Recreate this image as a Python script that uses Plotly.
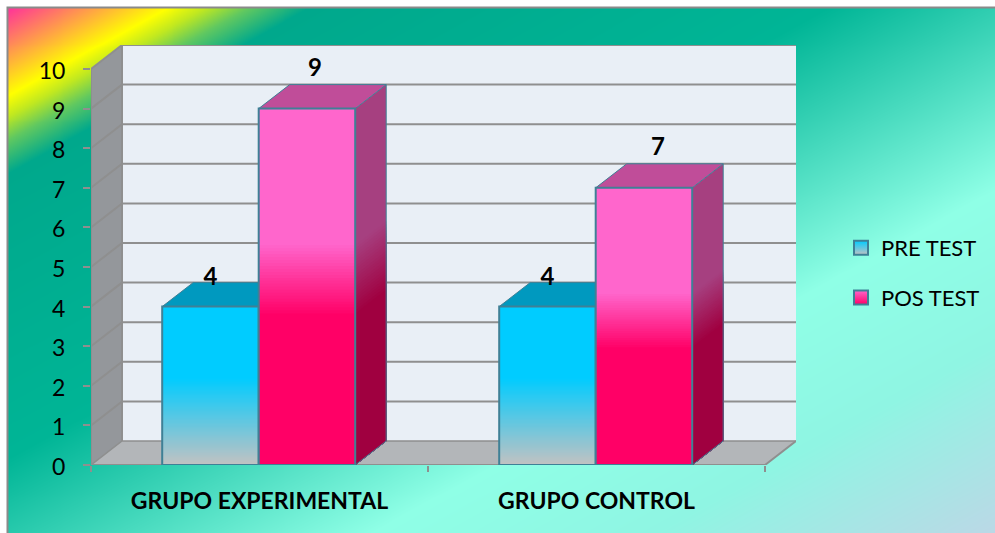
import numpy as np
import plotly.graph_objects as go

# ---------- data ----------
categories = ["GRUPO EXPERIMENTAL", "GRUPO CONTROL"]
pre_test = [4, 4]
pos_test = [9, 7]
y_ticks = [0, 1, 2, 3, 4, 5, 6, 7, 8, 9, 10]

# ---------- layout constants ----------
W, H = 995, 533
L, B = 91, 465            # front origin in pixels
CAT_PX, UNIT_PX = 337.0, 39.6
DX_PX, DY_PX = 31.0, 24.0
DX, DY = DX_PX / CAT_PX, DY_PX / UNIT_PX
BAR = 96.5 / CAT_PX
GAP = (1 - 2 * BAR) / 2 - 0.8 / CAT_PX
GRID = "#8f8f8f"
EDGE = "#3f8096"
FONT = "Lato"


def hex2rgb(h):
    h = h.lstrip("#")
    return np.array([int(h[i:i + 2], 16) for i in (0, 2, 4)], float)


def ramp(stops, f):
    fs = [s[0] for s in stops]
    cols = np.array([hex2rgb(s[1]) for s in stops])
    c = [np.interp(f, fs, cols[:, i]) for i in range(3)]
    return "rgb(%d,%d,%d)" % tuple(round(v) for v in c)


fig = go.Figure()

# ---------- page background (diagonal gradient) ----------
BG = [(0, "#ff3399"), (87, "#ffff00"), (108, "#c0e820"), (132, "#60c860"), (165, "#00a88c"),
      (450, "#00b596"), (725, "#8fffe6"), (880, "#8ff5e3"), (1068, "#bbd8e6")]
TMAX = BG[-1][0]
px = np.linspace(8, W, 250)
py = np.linspace(8, H, 134)
gx, gy = np.meshgrid(px, py)
fig.add_trace(go.Heatmap(
    x=px, y=py, z=(gx - 8) * 0.55 + (gy - 8),
    zmin=0, zmax=TMAX, zsmooth="best", showscale=False, hoverinfo="skip",
    colorscale=[[s[0] / TMAX, s[1]] for s in BG], xaxis="x", yaxis="y",
))


def poly(xs, ys, fill):
    fig.add_trace(go.Scatter(
        x=list(xs) + [xs[0]], y=list(ys) + [ys[0]], mode="lines",
        fill="toself", fillcolor=fill, line=dict(color="rgba(0,0,0,0)", width=0),
        hoverinfo="skip", showlegend=False, xaxis="x2", yaxis="y2", cliponaxis=False,
    ))


def path(xs, ys, color, width):
    fig.add_trace(go.Scatter(
        x=list(xs), y=list(ys), mode="lines", line=dict(color=color, width=width),
        hoverinfo="skip", showlegend=False, xaxis="x2", yaxis="y2", cliponaxis=False,
    ))


N = len(categories)
top = y_ticks[-1]
# walls and floor
poly([DX, N + DX, N + DX, DX], [DY, DY, top + DY, top + DY], "#e9eff6")
poly([0, DX, DX, 0], [0, DY, top + DY, top], "#94979b")
poly([0, N, N + DX, DX], [0, 0, DY, DY], "#b3b6b9")
for t in y_ticks[1:]:
    path([0, DX, N + DX], [t, t + DY, t + DY], GRID, 2)
path([0, DX, N + DX], [0, DY, DY], GRID, 1.5)
path([DX, DX], [DY, top + DY], GRID, 2)
path([0, 0], [0, top], GRID, 2)
path([0, N, N + DX], [0, 0, DY], GRID, 2)

PINK = [(0, "#ff0066"), (0.42, "#ff0066"), (0.62, "#ff66cc"), (1, "#ff66cc")]
PINK_SIDE = [(0, "#a00040"), (0.42, "#a00040"), (0.62, "#a64080"), (1, "#a64080")]
BLUE = [(0, "#c2c2c2"), (0.55, "#00ccff"), (1, "#00ccff")]
STRIPS = 120


def strips(stops):
    """Top-down list of (fraction, colour), dropping repeats of the same colour."""
    out = []
    for k in range(STRIPS, 0, -1):
        f = k / STRIPS
        col = ramp(stops, f - 0.5 / STRIPS)
        if not out or out[-1][1] != col:
            out.append((f, col))
    return out


def bar(x0, v, front, top_col, side=None):
    x1 = x0 + BAR
    if side:
        for f, col in strips(side):
            poly([x1, x1 + DX, x1 + DX, x1], [0, DY, f * v + DY, f * v], col)
    poly([x0, x0 + DX, x1 + DX, x1], [v, v + DY, v + DY, v], top_col)
    for f, col in strips(front):
        poly([x0, x1, x1, x0], [0, 0, f * v, f * v], col)
    path([x0, x1, x1, x0, x0], [0, 0, v, v, 0], EDGE, 2)
    path([x0, x0 + DX, x1 + DX, x1], [v, v + DY, v + DY, v], EDGE, 1)
    if side:
        path([x1 + DX, x1 + DX, x1], [v + DY, DY, 0], EDGE, 1)


lab_x, lab_y, lab_t = [], [], []
PRE_DX, POS_DX = [0.0, 0.0], [8 / CAT_PX, 14 / CAT_PX]
for i in range(N):
    x0 = i + GAP
    bar(x0, pre_test[i], BLUE, "#0099bf")
    bar(x0 + BAR, pos_test[i], PINK, "#c04d99", side=PINK_SIDE)
    lab_x += [x0 + BAR / 2 + PRE_DX[i], x0 + 1.5 * BAR + POS_DX[i]]
    lab_y += [pre_test[i] + 28 / UNIT_PX, pos_test[i] + 39 / UNIT_PX]
    lab_t += [str(pre_test[i]), str(pos_test[i])]

fig.add_trace(go.Scatter(
    x=lab_x, y=lab_y, text=lab_t, mode="text", cliponaxis=False,
    textfont=dict(family=FONT, size=24, color="black", weight="bold"),
    hoverinfo="skip", showlegend=False, xaxis="x2", yaxis="y2",
))

# legend entries
for name, c0, c1 in [("PRE TEST", "#00ccff", "#c2c2c2"), ("POS TEST", "#ff66cc", "#ff0066")]:
    fig.add_trace(go.Scatter(
        x=[None], y=[None], name=name, mode="markers", legendgroup=name,
        marker=dict(symbol="square", size=14, color=c0,
                    gradient=dict(type="vertical", color=c1),
                    line=dict(color=EDGE, width=2)),
        xaxis="x2", yaxis="y2",
    ))

fig.update_layout(
    width=W, height=H, autosize=False,
    margin=dict(l=0, r=0, t=0, b=0, autoexpand=False),
    paper_bgcolor="white", plot_bgcolor="rgba(0,0,0,0)",
    xaxis=dict(domain=[8 / W, 1], range=[8, W], visible=False, automargin=False),
    yaxis=dict(domain=[0, 1 - 8 / H], range=[H, 8], visible=False, automargin=False),
    xaxis2=dict(
        domain=[L / W, (L + N * CAT_PX + DX_PX) / W], range=[0, N + DX], anchor="y2",
        automargin=False,
        tickmode="array", tickvals=[i + 0.5 for i in range(N)], ticktext=categories,
        ticks="", showgrid=False, zeroline=False, showline=False, ticklabelstandoff=20,
        tickfont=dict(family=FONT, size=23, color="black", weight="bold"),
        minor=dict(tickmode="array", tickvals=list(range(N + 1)), ticks="outside",
                   ticklen=6, tickwidth=2, tickcolor=GRID, showgrid=False),
    ),
    yaxis2=dict(
        domain=[(H - B) / H, (H - B + (top * UNIT_PX + DY_PX)) / H], range=[0, top + DY],
        anchor="x2", automargin=False, tickmode="array", tickvals=y_ticks, ticks="outside", ticklen=7,
        tickwidth=2, tickcolor=GRID, showgrid=False, zeroline=False, showline=False,
        ticklabelstandoff=13, ticklabelshift=2, tickfont=dict(family=FONT, size=23, color="black"),
    ),
    legend=dict(x=841 / W, xanchor="left", y=1 - 227 / H, yanchor="top",
                bgcolor="rgba(0,0,0,0)", tracegroupgap=18, itemclick=False, itemdoubleclick=False,
                font=dict(family=FONT, size=22, color="black")),
    shapes=[dict(type="rect", xref="paper", yref="paper", x0=7.5 / W, x1=1.01,
                 y0=-0.01, y1=1 - 7.5 / H, line=dict(color="#8a8a8a", width=2))],
)
fig.write_html("out.html", config=dict(displayModeBar=False),
               post_script="document.body.style.margin='0';document.body.style.overflow='hidden';")
